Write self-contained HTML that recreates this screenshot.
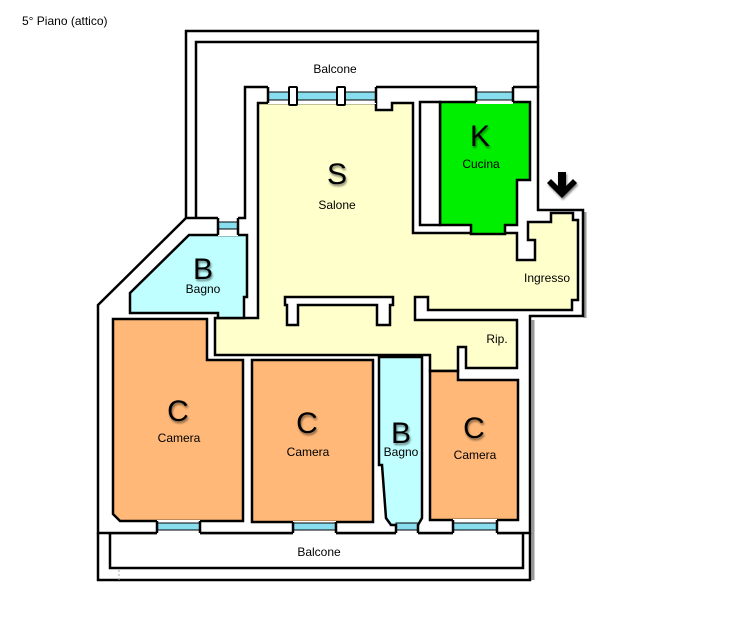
<!DOCTYPE html>
<html><head><meta charset="utf-8"><style>
html,body{margin:0;padding:0;background:#fff;}
svg{display:block;}
text{font-family:"Liberation Sans",sans-serif;fill:#000;}
</style></head><body>
<svg width="743" height="621" viewBox="0 0 743 621" xmlns="http://www.w3.org/2000/svg">
<defs>
<filter id="sh" x="-20%" y="-20%" width="140%" height="140%"><feGaussianBlur in="SourceAlpha" stdDeviation="1"/><feOffset dx="1" dy="2"/><feComponentTransfer><feFuncA type="linear" slope="0.5"/></feComponentTransfer><feMerge><feMergeNode/><feMergeNode in="SourceGraphic"/></feMerge></filter>
</defs>
<rect width="743" height="621" fill="#fff"/>
<text x="22" y="25" font-size="12">5° Piano (attico)</text>

<line x1="533" y1="320" x2="533" y2="580" stroke="#999" stroke-width="3"/>
<line x1="585" y1="212" x2="585" y2="318" stroke="#999" stroke-width="3"/>

<g fill="none" stroke="#000" stroke-width="2.5">
<polyline points="186,218 186,31 538,31 538,88"/>
<polyline points="196,218 196,42 538,42"/>
<polyline points="98,533 98,580 530,580 530,533"/>
<rect x="110" y="533" width="413" height="35"/>
</g>
<line x1="119" y1="570" x2="119" y2="580" stroke="#aaa" stroke-dasharray="2,2"/>

<polygon points="245,87 538,87 538,210 583,210 583,316 530,316 530,533 98,533 98,305 186,218 245,218" fill="#fff" stroke="#000" stroke-width="2.5"/>

<g stroke="#000" stroke-width="2.5" stroke-linejoin="miter">
<polygon fill="#ffffcc" points="258,103 376,103 376,110 392,110 392,103 413,103 413,233 517,233 517,260 535,260 535,240 528,240 528,222 551,222 551,213 573,213 573,220 578,220 578,300 572,300 572,310 428,310 428,297 415,297 415,320 517,320 517,368 466,368 466,347 458,347 458,371 430,371 430,355 215,355 215,318 258,318"/>
<polygon fill="#00ee00" points="440,102 530,102 530,180 517,180 517,225 505,225 505,234 471,234 471,225 440,225"/>
<rect x="420" y="102" width="20" height="123" fill="#fff"/>
<polygon fill="#c0ffff" points="189,235 247,235 247,297 244,297 244,318 218,318 218,313 130,313 130,293"/>
<polygon fill="#ffb878" points="113,319 207,319 207,360 243,360 243,521 120,521 113,514"/>
<rect x="252" y="360" width="121" height="162" fill="#ffb878"/>
<polygon fill="#c0ffff" points="379,357 422,357 422,518 418,525 391,525 386,518 382,465 379,465"/>
<polygon fill="#ffb878" points="430,371 458,371 458,380 518,380 518,520 430,520"/>
<polygon fill="#fff" points="285,297 393,297 393,305 390,305 390,325 377,325 377,305 298,305 298,325 287,325 287,305 285,305"/>
</g>

<!-- window openings: white erase of wall outline, then glass -->
<g fill="#fff">
<rect x="268" y="85" width="108" height="19"/>
<rect x="476" y="85" width="37" height="19"/>
<rect x="218" y="216" width="20" height="20"/>
<rect x="157" y="520" width="43" height="15"/>
<rect x="293" y="521" width="43" height="14"/>
<rect x="396" y="523" width="22" height="12"/>
<rect x="453" y="519" width="44" height="16"/>
</g>
<g fill="#88ddee" stroke="#000" stroke-width="1">
<rect x="268" y="92" width="108" height="8"/>
<rect x="476" y="92" width="37" height="8"/>
<rect x="218" y="222" width="20" height="7"/>
<rect x="157" y="523" width="43" height="7"/>
<rect x="293" y="523" width="43" height="7"/>
<rect x="396" y="523" width="22" height="7"/>
<rect x="453" y="523" width="44" height="7"/>
</g>
<g stroke="#000" stroke-width="2.5">
<line x1="268" y1="87" x2="268" y2="103"/>
<line x1="376" y1="87" x2="376" y2="103"/>
<line x1="476" y1="87" x2="476" y2="102"/>
<line x1="513" y1="87" x2="513" y2="102"/>
<line x1="218" y1="218" x2="218" y2="235"/>
<line x1="238" y1="218" x2="238" y2="235"/>
<line x1="157" y1="521" x2="157" y2="533"/>
<line x1="200" y1="521" x2="200" y2="533"/>
<line x1="293" y1="522" x2="293" y2="533"/>
<line x1="336" y1="522" x2="336" y2="533"/>
<line x1="396" y1="524" x2="396" y2="533"/>
<line x1="418" y1="524" x2="418" y2="533"/>
<line x1="453" y1="520" x2="453" y2="533"/>
<line x1="497" y1="520" x2="497" y2="533"/>
</g>
<g fill="#fff" stroke="#000" stroke-width="2">
<rect x="289" y="87" width="8" height="18" rx="1"/>
<rect x="337" y="87" width="8" height="18" rx="1"/>
</g>

<path d="M558,172 h8 v14 l7,-7 l4,4 l-15,15 l-15,-15 l4,-4 l7,7 z" fill="#000" filter="url(#sh)"/>

<g text-anchor="middle" filter="url(#sh)">
<text x="337" y="184" font-size="30">S</text>
<text x="480" y="146" font-size="30">K</text>
<text x="203" y="279" font-size="30">B</text>
<text x="178" y="421" font-size="30">C</text>
<text x="307" y="433" font-size="30">C</text>
<text x="401" y="443" font-size="30">B</text>
<text x="474" y="438" font-size="30">C</text>
</g>
<g text-anchor="middle" font-size="12">
<text x="335" y="73">Balcone</text>
<text x="337" y="209">Salone</text>
<text x="481" y="168">Cucina</text>
<text x="547" y="282">Ingresso</text>
<text x="497" y="343">Rip.</text>
<text x="203" y="293">Bagno</text>
<text x="179" y="442">Camera</text>
<text x="308" y="456">Camera</text>
<text x="401" y="456">Bagno</text>
<text x="475" y="459">Camera</text>
<text x="319" y="556">Balcone</text>
</g>
</svg>
</body></html>
